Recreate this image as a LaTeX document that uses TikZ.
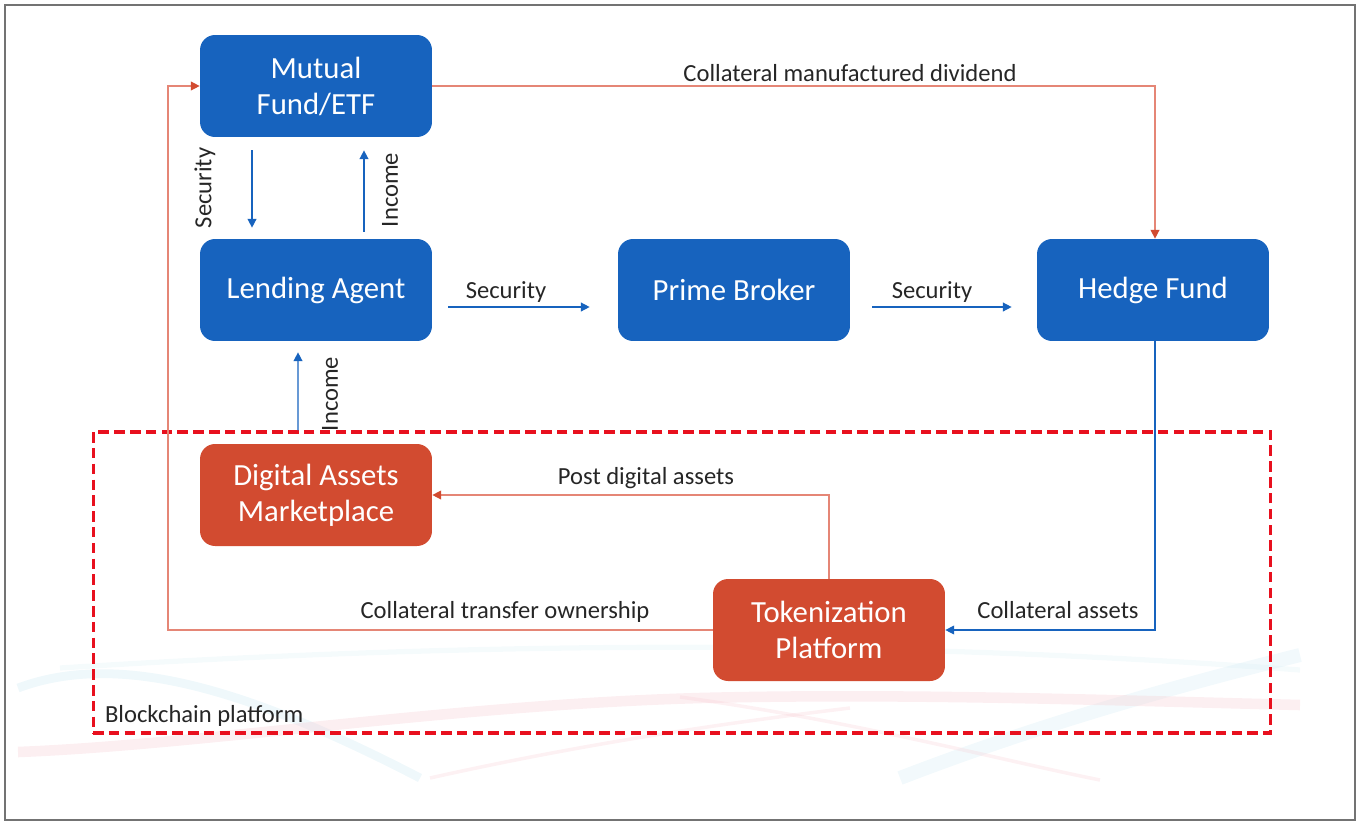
\documentclass[tikz,border=0pt]{standalone}
\usepackage{fontspec}
\setmainfont{Carlito}
\usetikzlibrary{arrows.meta}
\definecolor{fundblue}{HTML}{1763BE}
\definecolor{chainred}{HTML}{D24B30}
\definecolor{linkred}{HTML}{E58676}
\definecolor{dashred}{HTML}{E8101E}
\definecolor{waveblue}{HTML}{BFE3EE}
\definecolor{wavepink}{HTML}{F6C9D0}

\begin{document}
\begin{tikzpicture}
  [x=0.02cm, y=-0.02cm,
   party/.style={rectangle, rounded corners=0.3cm, fill=fundblue, text=white,
     minimum width=4.64cm, minimum height=2.04cm, align=center, font=\fontsize{17.5}{20.5}\selectfont},
   token/.style={party, fill=chainred},
   flow/.style={draw=fundblue, line width=0.8pt, -{Triangle[length=5pt, width=5pt]}},
   redflow/.style={line width=0.7pt, -{Triangle[length=5pt, width=5pt, fill=chainred, color=chainred]}, draw=linkred},
   tag/.style={font=\fontsize{14}{17}\selectfont, text=black!85, inner sep=1pt}]

  \useasboundingbox (0,0) rectangle (1361,825);
  \draw[black!55, line width=0.6pt] (5,5) rectangle (1355,820);

  % faint background waves
  \draw[waveblue, opacity=0.25, line width=5pt] (18,688) .. controls (120,650) and (250,690) .. (420,778);
  \draw[waveblue, opacity=0.2, line width=8pt] (900,778) .. controls (1050,720) and (1200,680) .. (1300,655);
  \draw[waveblue, opacity=0.15, line width=3pt] (60,668) .. controls (500,640) and (900,640) .. (1300,670);
  \draw[wavepink, opacity=0.3, line width=6pt] (18,752) .. controls (200,745) and (450,705) .. (700,698)
    .. controls (900,693) and (1100,700) .. (1300,705);
  \draw[wavepink, opacity=0.25, line width=2pt] (680,697) .. controls (850,720) and (1000,760) .. (1100,780);
  \draw[wavepink, opacity=0.25, line width=2pt] (430,778) .. controls (600,740) and (750,720) .. (850,708);

  % blockchain frame
  \node[draw=dashred, line width=1.8pt, dash pattern=on 6pt off 3pt,
        minimum width=23.56cm, minimum height=6.02cm] (chain) at (682,582.5) {};
  \node[tag, anchor=west] (chainlbl) at (103,716) {Blockchain platform};

  % parties
  \node[party] (mf) at (316,86) {Mutual\\Fund/ETF};
  \node[party] (la) at (316,290) {Lending Agent};
  \node[party] (pb) at (734,290) {Prime Broker};
  \node[party] (hf) at (1153,290) {Hedge Fund};
  \node[token] (dam) at (316,495) {Digital Assets\\Marketplace};
  \node[token] (tp) at (829,630) {Tokenization\\Platform};

  % blue flows
  \draw[flow, shorten <=0.26cm, shorten >=0.22cm] ([xshift=-1.28cm]mf.south) -- ([xshift=-1.28cm]la.north);
  \draw[flow, shorten <=0.14cm, shorten >=0.26cm] ([xshift=0.96cm]la.north) -- ([xshift=0.96cm]mf.south);
  \draw[flow, shorten >=0.22cm] (chain.north -| 298,0) -- ([xshift=-0.36cm]la.south);
  \draw[flow, shorten <=0.32cm, shorten >=0.56cm] ([yshift=-0.34cm]la.east) -- ([yshift=-0.34cm]pb.west);
  \draw[flow, shorten <=0.44cm, shorten >=0.5cm] ([yshift=-0.34cm]pb.east) -- ([yshift=-0.34cm]hf.west);
  \draw[flow, line width=0.6pt] ([xshift=0.04cm]hf.south) |- (tp.east);

  % red flows
  \draw[redflow] (mf.east) -| ([xshift=0.04cm]hf.north);
  \draw[redflow] (tp.north) |- (dam.east);
  \draw[redflow] (tp.west) -| (168,200) |- (mf.west);

  % labels
  \node[tag, rotate=90] (seclbl1) at (205,188) {Security};
  \node[tag, rotate=90] (inclbl1) at (390,190) {Income};
  \node[tag, rotate=90] (inclbl2) at (330,394) {Income};
  \node[tag] (seclbl2) at (506,292) {Security};
  \node[tag] (seclbl3) at (932,292) {Security};
  \node[tag] (divlbl) at (850,73) {Collateral manufactured dividend};
  \node[tag] (postlbl) at (646,478) {Post digital assets};
  \node[tag] (ownlbl) at (505,612) {Collateral transfer ownership};
  \node[tag] (asslbl) at (1058,610) {Collateral assets};
\end{tikzpicture}
\end{document}
